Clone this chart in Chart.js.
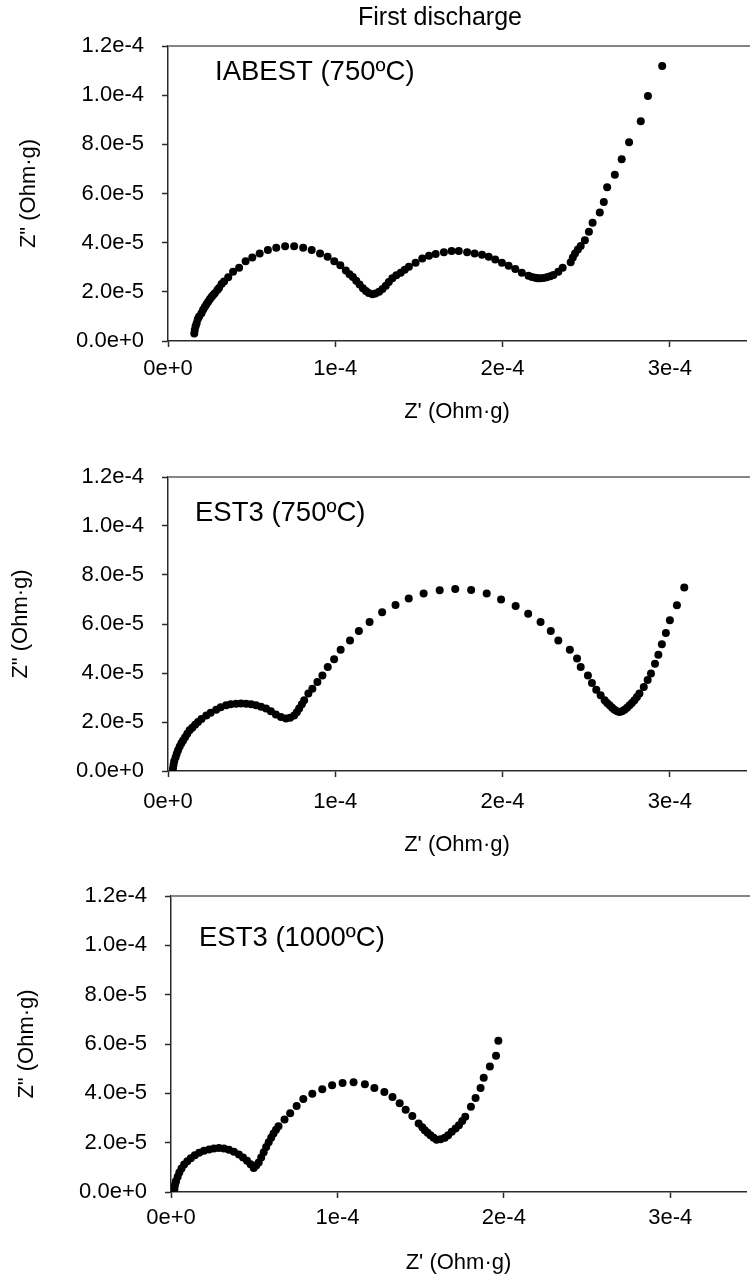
<!DOCTYPE html>
<html>
<head>
<meta charset="utf-8">
<script src="https://cdn.jsdelivr.net/npm/chart.js@4.4.1/dist/chart.umd.min.js"></script>
<style>
  body { margin: 0; background: #fff; width: 750px; height: 1279px; overflow: hidden; position: relative; }
  canvas { position: absolute; left: 0; }
</style>
</head>
<body>
<canvas id="c1" width="750" height="425" style="top:0px"></canvas>
<canvas id="c2" width="750" height="428" style="top:430px"></canvas>
<canvas id="c3" width="750" height="416" style="top:860px"></canvas>
<script>
// values, in units of 1e-5 Ohm·g
const UNIT = 1e-5;

const IABEST_X = [1.57, 1.6, 1.65, 1.71, 1.78, 1.86, 2.0, 2.1, 2.2, 2.3, 2.4, 2.5, 2.6, 2.7, 2.8, 2.95, 3.05, 3.2, 3.35,
  3.6, 3.89, 4.25, 4.64, 5.04, 5.48, 5.97, 6.47, 7.0, 7.54, 8.08, 8.59, 9.09, 9.54, 9.94, 10.3, 10.63, 10.85, 11.05,
  11.25, 11.45, 11.65, 11.83, 12.0, 12.22, 12.4, 12.62, 12.82, 13.02, 13.2, 13.41, 13.65, 13.91, 14.15, 14.4, 14.8,
  15.2, 15.6, 16.0, 16.49, 16.95, 17.38, 17.88, 18.33, 18.77, 19.17, 19.56, 19.96, 20.36, 20.76, 21.15, 21.55, 21.75,
  21.95, 22.1, 22.24, 22.45, 22.64, 22.85, 23.04, 23.33, 23.59, 24.07, 24.2, 24.33, 24.5, 24.67, 24.92, 25.16, 25.38,
  25.81, 26.05, 26.25, 26.71, 27.12, 27.56, 28.26, 28.69, 29.54];
const IABEST_Y = [0.31, 0.45, 0.6, 0.72, 0.88, 1.0, 1.13, 1.27, 1.38, 1.49, 1.6, 1.7, 1.79, 1.87, 1.94, 2.07, 2.16, 2.32, 2.42,
  2.59, 2.82, 2.98, 3.24, 3.4, 3.56, 3.7, 3.79, 3.85, 3.85, 3.79, 3.7, 3.56, 3.43, 3.24, 3.08, 2.87, 2.72, 2.6,
  2.45, 2.3, 2.15, 2.03, 1.95, 1.9, 1.93, 2.0, 2.12, 2.25, 2.4, 2.55, 2.67, 2.78, 2.9, 3.02, 3.18,
  3.36, 3.47, 3.54, 3.61, 3.66, 3.66, 3.61, 3.56, 3.51, 3.43, 3.32, 3.18, 3.06, 2.93, 2.78, 2.65, 2.6,
  2.57, 2.55, 2.55, 2.56, 2.59, 2.63, 2.68, 2.82, 2.98, 3.2, 3.4, 3.56, 3.72, 3.86, 4.1, 4.44, 4.81,
  5.23, 5.65, 6.25, 6.76, 7.39, 8.08, 8.94, 9.97, 11.19];

const EST3_750_X = [0.3, 0.33, 0.37, 0.45, 0.52, 0.6, 0.7, 0.8, 0.9, 1.02, 1.15, 1.29, 1.45, 1.62, 1.79, 2.0, 2.29, 2.55,
  2.88, 3.15, 3.48, 3.75, 4.07, 4.37, 4.67, 4.97, 5.26, 5.56, 5.86, 6.15, 6.45, 6.75, 7.05, 7.3, 7.54, 7.7, 7.84, 8.0,
  8.14, 8.39, 8.63, 8.93, 9.23, 9.55, 9.93, 10.32, 10.88, 11.41, 12.05, 12.8, 13.6, 14.39, 15.28, 16.24, 17.17, 18.12,
  19.05, 19.91, 20.78, 21.53, 22.27, 22.88, 23.33, 24.02, 24.45, 24.67, 25.1, 25.34, 25.6, 25.86, 26.1, 26.25, 26.4,
  26.55, 26.69, 26.85, 26.99, 27.14, 27.29, 27.44, 27.59, 27.73, 27.88, 28.03, 28.18, 28.44, 28.67, 28.87, 29.11,
  29.31, 29.52, 29.76, 30.0, 30.42, 30.86];
const EST3_750_Y = [0.1, 0.25, 0.4, 0.55, 0.7, 0.85, 1.0, 1.13, 1.25, 1.38, 1.52, 1.66, 1.77, 1.89, 2.0, 2.12, 2.27, 2.38,
  2.5, 2.6, 2.68, 2.72, 2.75, 2.76, 2.75, 2.72, 2.68, 2.62, 2.55, 2.44, 2.31, 2.2, 2.14, 2.17, 2.27, 2.4, 2.55, 2.72,
  2.89, 3.16, 3.36, 3.63, 3.9, 4.24, 4.56, 4.95, 5.33, 5.71, 6.08, 6.48, 6.78, 7.04, 7.25, 7.38, 7.43, 7.39,
  7.25, 7.0, 6.73, 6.42, 6.08, 5.71, 5.33, 4.95, 4.59, 4.24, 3.9, 3.59, 3.32, 3.09, 2.89, 2.78, 2.68,
  2.58, 2.5, 2.44, 2.41, 2.44, 2.5, 2.58, 2.68, 2.78, 2.89, 3.02, 3.16, 3.43, 3.71, 3.98, 4.38,
  4.75, 5.17, 5.63, 6.15, 6.77, 7.49];

const EST3_1000_X = [0.2, 0.23, 0.27, 0.3, 0.4, 0.5, 0.63, 0.79, 0.98, 1.19, 1.43, 1.69, 1.98, 2.29, 2.58, 2.88, 3.18,
  3.48, 3.78, 4.08, 4.33, 4.57, 4.78, 4.97, 5.12, 5.27, 5.42, 5.57, 5.72, 5.87, 6.02, 6.16, 6.31, 6.46, 6.82, 7.16,
  7.55, 7.95, 8.49, 9.09, 9.68, 10.31, 10.97, 11.65, 12.22, 12.82, 13.31, 13.74, 14.1, 14.5, 14.88, 15.1, 15.25,
  15.42, 15.59, 15.78, 15.96, 16.2, 16.45, 16.65, 16.87, 17.1, 17.3, 17.5, 17.68, 18.02, 18.3, 18.6, 18.79, 19.16,
  19.53, 19.67];
const EST3_1000_Y = [0.11, 0.25, 0.38, 0.45, 0.62, 0.79, 0.95, 1.11, 1.25, 1.37, 1.49, 1.59, 1.67, 1.72, 1.76, 1.78, 1.76,
  1.71, 1.63, 1.52, 1.4, 1.27, 1.12, 0.97, 1.07, 1.2, 1.4, 1.61, 1.82, 2.02, 2.2, 2.37, 2.52, 2.67, 2.94, 3.19,
  3.49, 3.77, 3.98, 4.17, 4.33, 4.42, 4.45, 4.37, 4.22, 4.05, 3.85, 3.6, 3.33, 3.08, 2.78, 2.62, 2.5,
  2.4, 2.3, 2.2, 2.12, 2.14, 2.2, 2.3, 2.44, 2.57, 2.71, 2.88, 3.05, 3.46, 3.81, 4.22, 4.63, 5.09,
  5.52, 6.13];

const X_TICKS = [0, 1e-4, 2e-4, 3e-4];
const Y_TICKS = [0, 2e-5, 4e-5, 6e-5, 8e-5, 1e-4, 1.2e-4];
const X_MAX = 3.455e-4;
const Y_MAX = 1.2e-4;

const X_TITLE = "Z' (Ohm·g)";
const Y_TITLE = 'Z" (Ohm·g)';
const MAIN_TITLE = 'First discharge';
const PANEL_LABELS = ['IABEST (750ºC)', 'EST3 (750ºC)', 'EST3 (1000ºC)'];

const FONT = '"Liberation Sans", Arial, sans-serif';
const INK = '#000';
const AXIS = '#2a2a2a';

// ---- text + top frame line drawn on each panel ----
const panelText = {
  id: 'panelText',
  afterDraw(chart, args, o) {
    const { ctx, chartArea: a } = chart;
    ctx.save();
    ctx.strokeStyle = '#858585';
    ctx.lineWidth = 2;
    ctx.beginPath();
    ctx.moveTo(a.left, a.top);
    ctx.lineTo(chart.width, a.top);
    ctx.stroke();

    ctx.fillStyle = INK;
    ctx.textBaseline = 'middle';
    ctx.textAlign = 'left';
    ctx.font = `27.5px ${FONT}`;
    ctx.fillText(o.label, a.left + o.dx, a.top + o.dy);
    if (o.title) {
      ctx.textAlign = 'center';
      ctx.font = `25px ${FONT}`;
      ctx.fillText(o.title, a.left + 272, a.top - 28);
    }
    ctx.restore();
  }
};

function makePanel(id, xs, ys, cfg) {
  const pts = xs.map((x, i) => ({ x: x * UNIT, y: ys[i] * UNIT }));
  return new Chart(document.getElementById(id), {
    type: 'scatter',
    data: {
      datasets: [{
        data: pts,
        pointRadius: 4,
        pointBackgroundColor: INK,
        pointBorderWidth: 0,
        showLine: false
      }]
    },
    options: {
      responsive: false,
      animation: false,
      devicePixelRatio: 1,
      layout: { padding: { top: cfg.padTop, left: 0, right: 0, bottom: 0 } },
      plugins: {
        legend: { display: false },
        tooltip: { enabled: false },
        panelText: { label: cfg.label, dx: cfg.dx, dy: cfg.dy, title: cfg.title }
      },
      scales: {
        x: {
          type: 'linear',
          min: 0, max: X_MAX,
          afterBuildTicks: s => { s.ticks = X_TICKS.map(v => ({ value: v })); },
          afterFit: s => { s.height = cfg.xHeight; },
          ticks: {
            color: INK, padding: cfg.xPad, maxRotation: 0,
            font: { family: FONT, size: 22 },
            callback: v => Number(v).toExponential(0)
          },
          grid: { drawOnChartArea: false, tickLength: 6, tickColor: AXIS, tickWidth: 1.5 },
          border: { display: true, color: AXIS, width: 1.5 },
          title: {
            display: true, text: X_TITLE, color: INK,
            font: { family: FONT, size: 22 }, padding: { top: 0, bottom: 0 }
          }
        },
        y: {
          type: 'linear',
          min: 0, max: Y_MAX,
          afterBuildTicks: s => { s.ticks = Y_TICKS.map(v => ({ value: v })); },
          afterFit: s => { s.width = cfg.yWidth; },
          ticks: {
            color: INK, padding: 18,
            font: { family: FONT, size: 22 },
            callback: v => Number(v).toExponential(1)
          },
          grid: { drawOnChartArea: false, tickLength: 6, tickColor: AXIS, tickWidth: 1.5 },
          border: { display: true, color: AXIS, width: 1.5 },
          title: {
            display: true, text: Y_TITLE, color: INK,
            font: { family: FONT, size: 22 }, padding: { top: cfg.yTitlePad, bottom: 0 }
          }
        }
      }
    },
    plugins: [panelText]
  });
}

makePanel('c1', IABEST_X, IABEST_Y, {
  label: PANEL_LABELS[0], title: MAIN_TITLE, dx: 47, dy: 26.5,
  padTop: 46, yWidth: 168, xHeight: 84, xPad: 9, yTitlePad: 16
});
makePanel('c2', EST3_750_X, EST3_750_Y, {
  label: PANEL_LABELS[1], dx: 27, dy: 36,
  padTop: 47, yWidth: 168, xHeight: 87, xPad: 12, yTitlePad: 8
});
makePanel('c3', EST3_1000_X, EST3_1000_Y, {
  label: PANEL_LABELS[2], dx: 28, dy: 42,
  padTop: 36, yWidth: 171, xHeight: 84, xPad: 7, yTitlePad: 14
});
</script>
</body>
</html>
